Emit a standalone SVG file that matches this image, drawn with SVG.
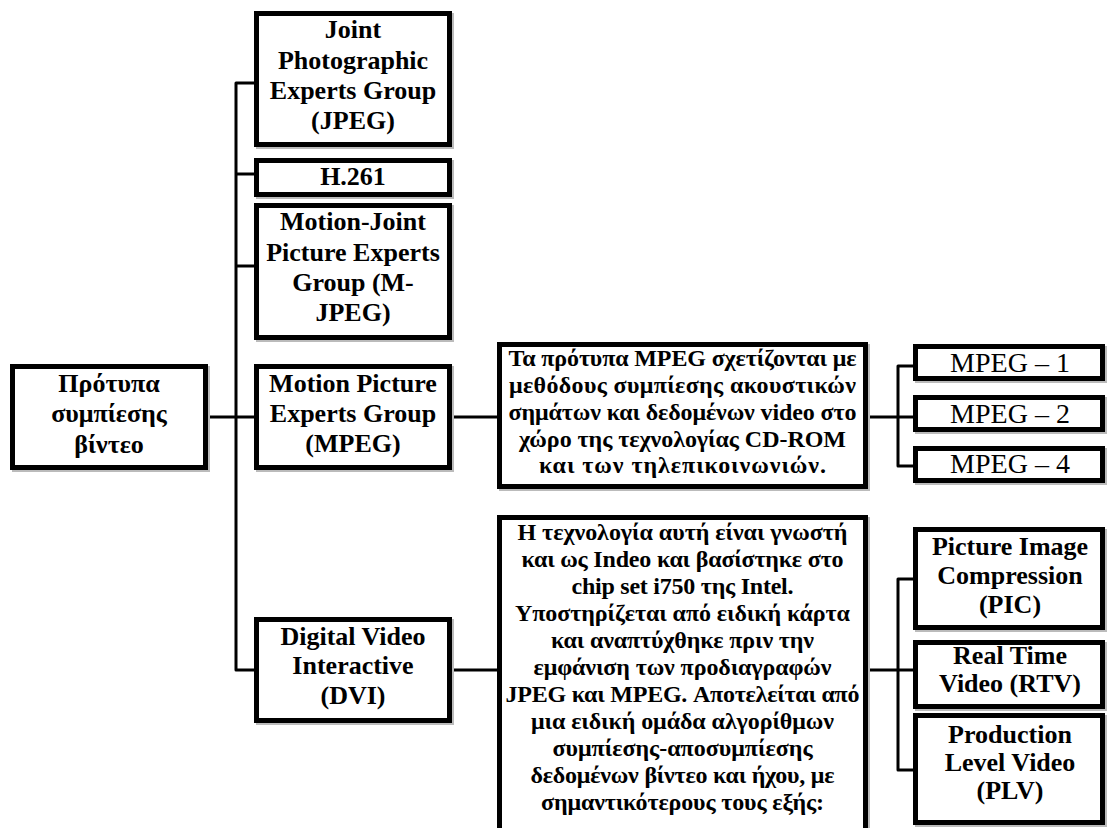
<svg xmlns="http://www.w3.org/2000/svg" width="1108" height="828" viewBox="0 0 1108 828">
<style>
.box{fill:#fff;stroke:#000;stroke-width:5}
.sh{fill:none;stroke:#bbb;stroke-width:5}
.t{font-family:"Liberation Serif","Times New Roman",serif;font-weight:bold;font-size:26px;text-anchor:middle;fill:#000}
.r{font-weight:normal;font-size:28px}
.d{font-size:24px}
.c{fill:none;stroke:#000;stroke-width:3;stroke-linejoin:round}
</style>
<rect width="1108" height="828" fill="#fff"/>
<g id="connectors">
<path class="c" d="M254 83 H236 V670 H254"/>
<path class="c" d="M236 174 H254"/>
<path class="c" d="M236 266 H254"/>
<path class="c" d="M208 417 H254"/>
<path class="c" d="M452 417 H497"/>
<path class="c" d="M452 670 H497"/>
<path class="c" d="M868 417 H913"/>
<path class="c" d="M913 366 H898 V466 H913"/>
<path class="c" d="M868 670 H913"/>
<path class="c" d="M913 579 H898 V770 H913"/>
</g>
<g id="root">
<rect class="sh" x="14.5" y="368.5" width="193" height="101"/>
<rect class="box" x="12.5" y="366.5" width="193" height="101"/>
<text class="t" x="109" y="392">Πρότυπα</text>
<text class="t" x="109" y="422">συμπίεσης</text>
<text class="t" x="109" y="453">βίντεο</text>
</g>
<g id="jpeg">
<rect class="sh" x="258.5" y="15.5" width="193" height="131"/>
<rect class="box" x="256.5" y="13.5" width="193" height="131"/>
<text class="t" x="353" y="38">Joint</text>
<text class="t" x="353" y="69">Photographic</text>
<text class="t" x="353" y="99">Experts Group</text>
<text class="t" x="353" y="129">(JPEG)</text>
</g>
<g id="h261">
<rect class="sh" x="258.5" y="162.5" width="193" height="34"/>
<rect class="box" x="256.5" y="160.5" width="193" height="34"/>
<text class="t" x="353" y="185">H.261</text>
</g>
<g id="mjpeg">
<rect class="sh" x="258.5" y="207.5" width="193" height="132"/>
<rect class="box" x="256.5" y="205.5" width="193" height="132"/>
<text class="t" x="353" y="230">Motion-Joint</text>
<text class="t" x="353" y="261">Picture Experts</text>
<text class="t" x="353" y="291">Group (M-</text>
<text class="t" x="353" y="321">JPEG)</text>
</g>
<g id="mpeg">
<rect class="sh" x="258.5" y="368.5" width="193" height="101"/>
<rect class="box" x="256.5" y="366.5" width="193" height="101"/>
<text class="t" x="353" y="392">Motion Picture</text>
<text class="t" x="353" y="422">Experts Group</text>
<text class="t" x="353" y="452">(MPEG)</text>
</g>
<g id="dvi">
<rect class="sh" x="258.5" y="621.5" width="193" height="101"/>
<rect class="box" x="256.5" y="619.5" width="193" height="101"/>
<text class="t" x="353" y="645">Digital Video</text>
<text class="t" x="353" y="674">Interactive</text>
<text class="t" x="353" y="704">(DVI)</text>
</g>
<g id="mpeg-desc">
<rect class="sh" x="501.5" y="346.5" width="366" height="142"/>
<rect class="box" x="499.5" y="344.5" width="366" height="142"/>
<text class="t d" x="682.5" y="366" textLength="348">Τα πρότυπα MPEG σχετίζονται με</text>
<text class="t d" x="682.5" y="393" textLength="347">μεθόδους συμπίεσης ακουστικών</text>
<text class="t d" x="682.5" y="420" textLength="348">σημάτων και δεδομένων video στο</text>
<text class="t d" x="682.5" y="447" textLength="327">χώρο της τεχνολογίας CD-ROM</text>
<text class="t d" x="682.5" y="473" textLength="287">και των τηλεπικοινωνιών.</text>
</g>
<g id="dvi-desc">
<rect class="sh" x="501.5" y="519.5" width="366" height="330"/>
<rect class="box" x="499.5" y="517.5" width="366" height="330"/>
<text class="t d" x="682.5" y="540" textLength="330">Η τεχνολογία αυτή είναι γνωστή</text>
<text class="t d" x="682.5" y="567" textLength="322">και ως Indeo και βασίστηκε στο</text>
<text class="t d" x="682.5" y="594" textLength="222">chip set i750 της Intel.</text>
<text class="t d" x="682.5" y="621" textLength="335">Υποστηρίζεται από ειδική κάρτα</text>
<text class="t d" x="682.5" y="648" textLength="263">και αναπτύχθηκε πριν την</text>
<text class="t d" x="682.5" y="675" textLength="298">εμφάνιση των προδιαγραφών</text>
<text class="t d" x="682.5" y="702" textLength="354">JPEG και MPEG. Αποτελείται από</text>
<text class="t d" x="682.5" y="729" textLength="303">μια ειδική ομάδα αλγορίθμων</text>
<text class="t d" x="682.5" y="756" textLength="260">συμπίεσης-αποσυμπίεσης</text>
<text class="t d" x="682.5" y="783" textLength="304">δεδομένων βίντεο και ήχου, με</text>
<text class="t d" x="682.5" y="810" textLength="283">σημαντικότερους τους εξής:</text>
</g>
<g id="mpeg1">
<rect class="sh" x="917.5" y="348.5" width="187" height="32"/>
<rect class="box" x="915.5" y="346.5" width="187" height="32"/>
<text class="t r" x="1010" y="372">MPEG – 1</text>
</g>
<g id="mpeg2">
<rect class="sh" x="917.5" y="399.5" width="187" height="32"/>
<rect class="box" x="915.5" y="397.5" width="187" height="32"/>
<text class="t r" x="1010" y="423">MPEG – 2</text>
</g>
<g id="mpeg4">
<rect class="sh" x="917.5" y="450.5" width="187" height="32"/>
<rect class="box" x="915.5" y="448.5" width="187" height="32"/>
<text class="t r" x="1010" y="473">MPEG – 4</text>
</g>
<g id="pic">
<rect class="sh" x="917.5" y="531.5" width="187" height="98"/>
<rect class="box" x="915.5" y="529.5" width="187" height="98"/>
<text class="t" x="1010" y="555">Picture Image</text>
<text class="t" x="1010" y="584">Compression</text>
<text class="t" x="1010" y="613">(PIC)</text>
</g>
<g id="rtv">
<rect class="sh" x="917.5" y="644.5" width="187" height="64"/>
<rect class="box" x="915.5" y="642.5" width="187" height="64"/>
<text class="t" x="1010" y="664">Real Time</text>
<text class="t" x="1010" y="692">Video (RTV)</text>
</g>
<g id="plv">
<rect class="sh" x="917.5" y="717.5" width="187" height="107"/>
<rect class="box" x="915.5" y="715.5" width="187" height="107"/>
<text class="t" x="1010" y="743">Production</text>
<text class="t" x="1010" y="771">Level Video</text>
<text class="t" x="1010" y="799">(PLV)</text>
</g>
</svg>
